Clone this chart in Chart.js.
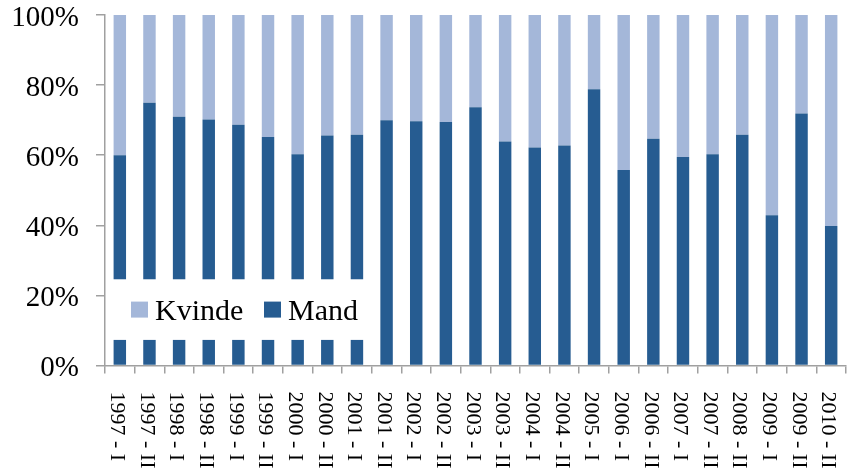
<!DOCTYPE html>
<html>
<head>
<meta charset="utf-8">
<script src="https://cdn.jsdelivr.net/npm/chart.js@4"></script>
<style>
  html, body { margin: 0; padding: 0; background: #fff; }
  #wrap { width: 849px; height: 473px; }
</style>
</head>
<body>
<div id="wrap"><canvas id="chart" width="849" height="473"></canvas></div>
<script>
const periods = ["1997 - I", "1997 - II", "1998 - I", "1998 - II", "1999 - I", "1999 - II",
  "2000 - I", "2000 - II", "2001 - I", "2001 - II", "2002 - I", "2002 - II",
  "2003 - I", "2003 - II", "2004 - I", "2004 - II", "2005 - I", "2006 - I",
  "2006 - II", "2007 - I", "2007 - II", "2008 - II", "2009 - I", "2009 - II", "2010 - II"];

// shares in percent
const mand = [60.0, 75.0, 71.0, 70.2, 68.7, 65.2, 60.3, 65.6, 65.8, 70.0, 69.7, 69.5,
  73.7, 63.9, 62.2, 62.8, 78.8, 55.8, 64.7, 59.5, 60.3, 65.8, 42.9, 71.9, 39.8];
const kvinde = [40.0, 25.0, 29.0, 29.8, 31.3, 34.8, 39.7, 34.4, 34.2, 30.0, 30.3, 30.5,
  26.3, 36.1, 37.8, 37.2, 21.2, 44.2, 35.3, 40.5, 39.7, 34.2, 57.1, 28.1, 60.2];

const yTicks = [0, 20, 40, 60, 80, 100];

const FONT = "'Liberation Serif', 'Times New Roman', serif";
const DARK = "#265C91";
const LIGHT = "#A4B7D9";
const AXIS = "#A0A0A0";

// x labels read top to bottom, so they are drawn here instead of by the scale
const xLabelPlugin = {
  id: "xLabels",
  afterDraw(chart) {
    const ctx = chart.ctx;
    const x = chart.scales.x;
    ctx.save();
    ctx.font = "22px " + FONT;
    ctx.fillStyle = "#000";
    ctx.textAlign = "left";
    ctx.textBaseline = "middle";
    periods.forEach((p, i) => {
      ctx.save();
      ctx.translate(x.getPixelForValue(i) - 3, x.top + 26);
      ctx.rotate(Math.PI / 2);
      ctx.fillText(p, 0, 0);
      ctx.restore();
    });
    ctx.restore();
  }
};

// legend sits in a white box over the lower left bars
const legendBoxPlugin = {
  id: "legendBox",
  afterDatasetsDraw(chart) {
    const ctx = chart.ctx;
    const y = chart.scales.y;
    const x = chart.scales.x;
    const top = y.getPixelForValue(24.6);
    const bottom = y.getPixelForValue(7.3);
    const left = chart.chartArea.left + 1;
    const right = (x.getPixelForValue(8) + x.getPixelForValue(9)) / 2;
    ctx.save();
    ctx.fillStyle = "#fff";
    ctx.fillRect(left, top, right - left, bottom - top);

    const mid = (top + bottom) / 2;
    const items = [["Kvinde", LIGHT, 131], ["Mand", DARK, 264]];
    ctx.font = "30px " + FONT;
    ctx.textBaseline = "middle";
    ctx.textAlign = "left";
    items.forEach(([txt, col, lx]) => {
      ctx.fillStyle = col;
      ctx.fillRect(lx, mid - 8, 17, 16);
      ctx.fillStyle = "#000";
      ctx.fillText(txt, lx + 24, mid + 3);
    });
    ctx.restore();
  }
};

new Chart("chart", {
  type: "bar",
  data: {
    labels: periods,
    datasets: [
      { label: "Mand", data: mand, backgroundColor: DARK, borderWidth: 0 },
      { label: "Kvinde", data: kvinde, backgroundColor: LIGHT, borderWidth: 0 }
    ]
  },
  options: {
    responsive: false,
    animation: false,
    devicePixelRatio: 1,
    layout: { padding: { top: 15, right: 3, left: 0, bottom: 0 } },
    datasets: { bar: { barPercentage: 0.42, categoryPercentage: 1.0 } },
    plugins: { legend: { display: false }, tooltip: { enabled: false } },
    scales: {
      x: {
        stacked: true,
        grid: { drawOnChartArea: false, drawTicks: true, tickLength: 8, color: AXIS, lineWidth: 1.5 },
        border: { color: AXIS, width: 1.5 },
        ticks: { display: false },
        afterFit(scale) { scale.height = 107.5; }
      },
      y: {
        stacked: true,
        min: 0,
        max: 100,
        afterBuildTicks(scale) { scale.ticks = yTicks.map(v => ({ value: v })); },
        grid: { drawOnChartArea: false, drawTicks: true, tickLength: 9, color: AXIS, lineWidth: 1.5 },
        border: { color: AXIS, width: 1.5 },
        ticks: {
          padding: 17,
          labelOffset: 3,
          color: "#000",
          font: { family: FONT, size: 29 },
          callback: v => v + "%"
        },
        afterFit(scale) {
          scale.width = 105;
          scale.paddingTop = 0;
          scale.paddingBottom = 0;
        }
      }
    }
  },
  plugins: [xLabelPlugin, legendBoxPlugin]
});
</script>
</body>
</html>
